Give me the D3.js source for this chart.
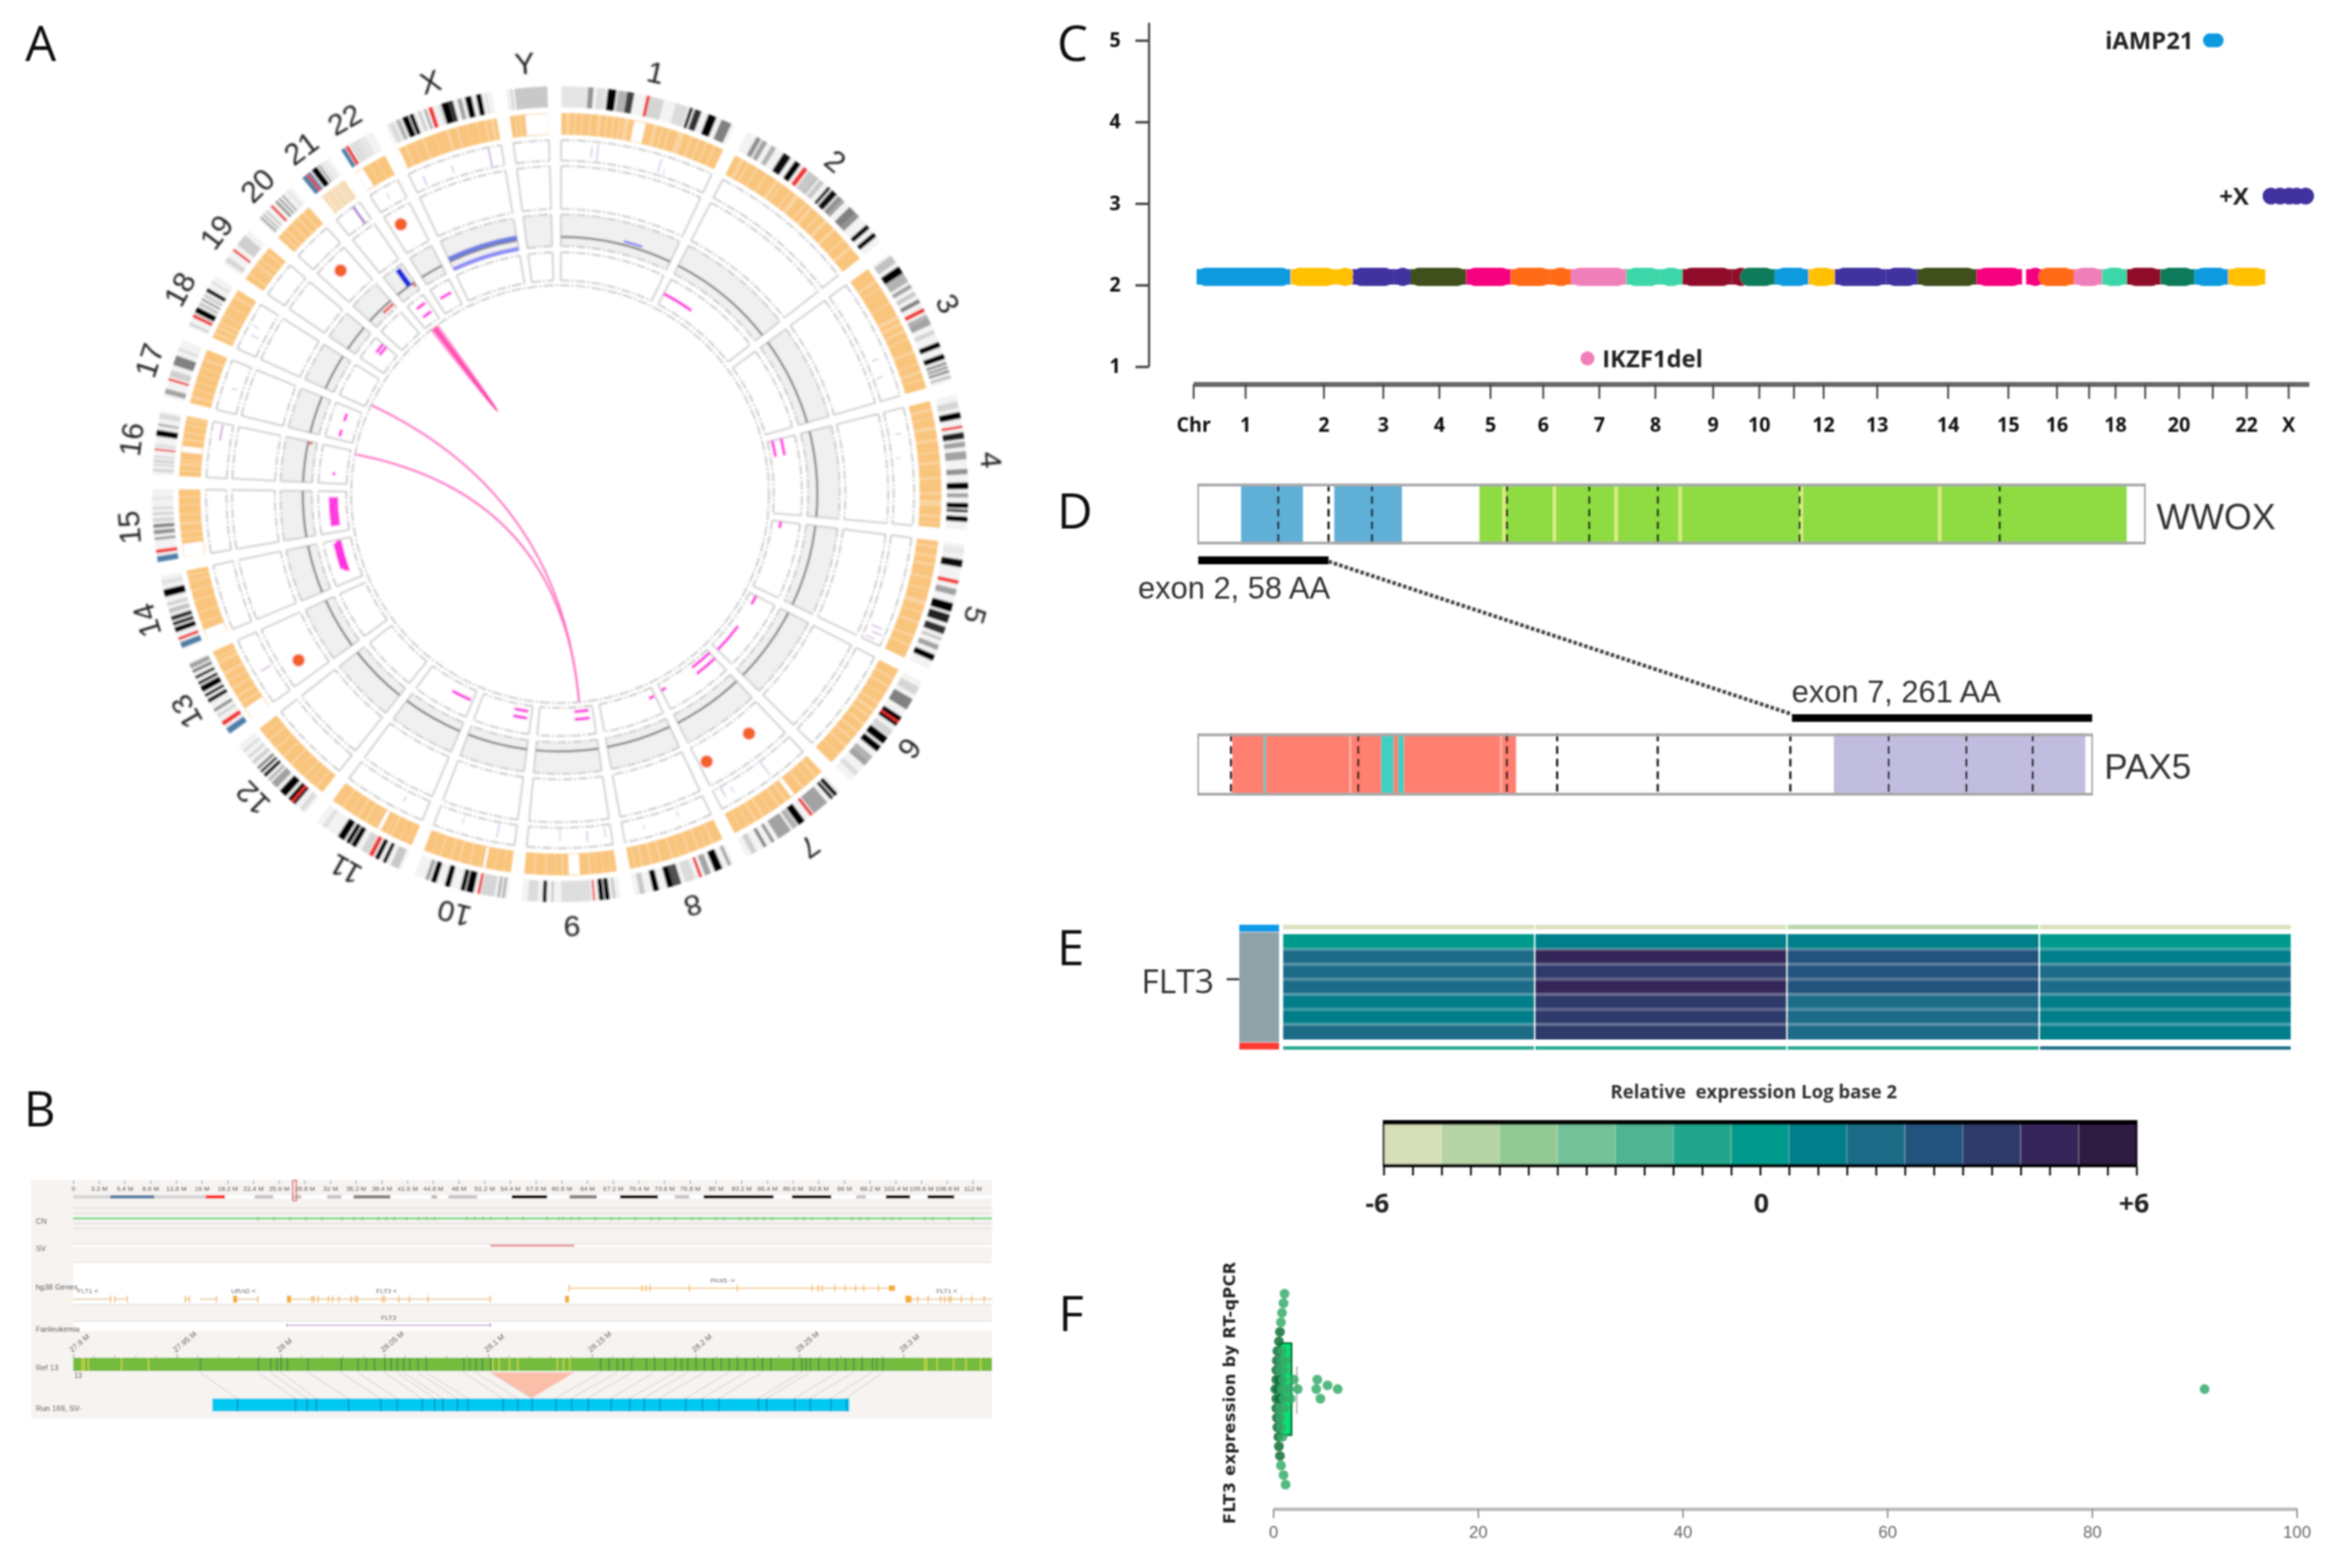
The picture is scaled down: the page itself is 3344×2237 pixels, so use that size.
<!DOCTYPE html>
<html>
<head>
<meta charset="utf-8">
<style>
  body { margin: 0; background: #fff; }
  text { font-family: "Liberation Sans", Arial, sans-serif; }
  .os text, text.os { font-family: "Open Sans", sans-serif; }
</style>
<script src="https://d3js.org/d3.v7.min.js"></script>
</head>
<body>
<svg id="fig" width="3344" height="2237" xmlns="http://www.w3.org/2000/svg"></svg>
<script>
// ---------- panel A data ----------
const chrNames = ['1','2','3','4','5','6','7','8','9','10','11','12','13','14','15','16','17','18','19','20','21','22','X','Y'];
const chrLen = [248.9,242.2,198.3,190.2,181.5,170.8,159.3,145.1,138.4,133.8,135.1,133.3,114.4,107,102,90.3,83.3,80.4,58.6,64.4,46.7,50.8,156,57.2];

// [start %, end %, darkness or r/b], read along each chromosome clockwise
const cytoBands = [
  [[0,15,12],[15,18,55],[20,25,18],[26,31,100],[32,37,45],[37,41,80],[48,50,'r'],[50,58,25],[65,72,20],[73,75,90],[76,80,85],[84,89,100],[92,98,60]],
  [[6,9,55],[10,13,50],[16,19,45],[24,29,95],[32,36,100],[38,41,'r'],[42,46,35],[46,49,40],[50,53,35],[56,58,90],[59,63,95],[64,67,55],[67,69,50],[73,78,60],[78,81,55],[87,90,100],[93,96,100]],
  [[2,8,40],[11,17,100],[17,24,45],[26,29,50],[32,35,35],[38,41,60],[45,48,'r'],[50,53,45],[53,58,50],[62,65,25],[71,75,100],[80,84,100],[86,88,55],[89,91,50],[92,94,55],[96,98,40]],
  [[5,10,25],[13,18,100],[23,25,'r'],[28,33,90],[35,39,50],[42,48,50],[55,59,55],[65,70,100],[73,76,50],[80,84,100],[85,87,90],[90,94,100]],
  [[3,8,10],[12,18,95],[28,31,'r'],[35,40,50],[46,53,100],[55,62,90],[65,71,85],[74,76,40],[80,84,50],[88,93,100]],
  [[5,12,25],[16,26,60],[33,42,100],[37,39,'r'],[46,52,25],[53,60,100],[62,68,100],[73,78,45],[78,83,50],[90,94,20]],
  [[3,7,100],[8,11,100],[15,30,50],[31,34,'r'],[40,47,100],[48,53,45],[55,68,50],[72,75,55],[80,83,60],[90,95,30]],
  [[3,6,50],[12,20,100],[24,30,50],[33,36,'r'],[40,50,20],[54,62,75],[62,68,100],[76,82,100],[90,95,35]],
  [[5,8,35],[11,16,100],[17,22,100],[26,28,'r'],[30,60,18],[68,70,40],[75,79,100],[84,94,20]],
  [[3,6,45],[8,11,45],[14,28,25],[29,32,'r'],[36,44,100],[45,50,100],[61,67,100],[76,82,100],[84,88,50]],
  [[3,12,35],[17,21,100],[25,30,100],[32,37,'r'],[38,46,25],[52,58,100],[59,64,100],[66,74,100],[88,93,15]],
  [[3,8,20],[14,24,100],[17,20,'r'],[27,36,100],[40,48,50],[50,53,45],[56,60,100],[62,65,90],[67,70,60],[74,78,30],[82,85,25],[90,93,20]],
  [[0,8,'b'],[12,18,'r'],[24,28,25],[32,36,55],[45,50,95],[53,57,95],[60,68,100],[70,74,90],[78,82,85],[86,90,60],[92,98,50]],
  [[2,10,'b'],[13,17,'r'],[24,31,100],[33,38,90],[40,46,85],[50,56,40],[60,64,30],[72,82,100],[88,94,15]],
  [[0,8,'b'],[12,17,'r'],[30,34,50],[38,44,55],[47,52,60],[55,60,25],[64,68,25],[72,76,20],[85,90,10]],
  [[5,10,25],[14,18,20],[20,24,30],[27,30,25],[38,41,'r'],[44,48,20],[60,70,100],[76,80,45],[88,96,20]],
  [[5,14,50],[28,32,'r'],[35,46,30],[55,72,60],[80,86,15]],
  [[4,8,30],[18,24,'r'],[27,38,100],[42,47,40],[51,55,50],[59,63,40],[68,75,100],[85,90,15]],
  [[8,20,25],[38,44,'r'],[56,85,30]],
  [[5,10,50],[14,18,45],[24,27,45],[38,44,'r'],[52,58,55],[62,67,50],[72,76,50],[85,92,10]],
  [[0,15,'b'],[15,22,'r'],[22,30,'b'],[35,55,100],[60,66,50],[72,76,25],[84,88,15]],
  [[0,12,'b'],[14,24,'r'],[30,36,30],[40,46,30],[50,56,25],[60,66,20],[70,76,15]],
  [[3,8,20],[10,14,45],[16,22,100],[23,27,100],[31,34,30],[37,39,50],[41,45,'r'],[50,53,15],[53,60,100],[60,64,85],[68,72,50],[75,81,100],[85,90,100],[93,95,15]],
  [[0,5,5],[10,14,35],[20,100,35]]
];

// pale strips in the orange density ring, in % of each chromosome
const heatStrips = [
  [[3,5],[8,9],[12,13],[17,18],[22,24],[27,28],[31,32],[35,36],[38,41],[56,58],[61,62],[65,66],[71,75],[79,80],[84,85],[89,90],[94,95]],
  [[4,6],[9,10],[15,16],[22,23],[29,31],[33,34],[40,41],[44,47],[52,53],[56,58],[63,64],[68,70],[75,77],[84,85],[90,92]],
  [[10,12],[16,17],[30,31],[41,44],[47,49],[53,55],[60,61],[70,72],[80,81],[86,88],[92,93]],
  [[6,8],[13,14],[20,23],[30,32],[40,41],[48,50],[60,62],[72,74],[78,83],[90,92],[96,97]],
  [[4,6],[12,14],[19,21],[30,32],[40,41],[50,54],[60,61],[68,70],[80,82],[88,90]],
  [[8,10],[16,18],[25,26],[33,35],[40,43],[47,49],[55,57],[64,66],[72,74],[80,82],[90,91]],
  [[6,8],[14,15],[22,24],[42,44],[50,52],[60,61],[68,70],[76,78],[84,85],[92,93]],
  [[10,12],[18,19],[26,28],[36,38],[46,47],[54,56],[66,68],[76,78],[86,88],[94,95]],
  [[6,7],[14,15],[22,23],[28,30],[58,60],[66,67],[76,78],[88,90]],
  [[8,9],[18,19],[36,37],[46,48],[58,60],[68,70],[80,82],[90,91]],
  [[6,7],[14,15],[24,26],[30,31],[46,47],[56,58],[66,68],[76,77],[86,88]],
  [[8,10],[18,19],[26,28],[36,37],[46,48],[58,60],[70,72],[82,84],[92,93]],
  [[22,25],[32,35],[44,47],[56,58],[66,70],[82,86],[90,92]],
  [[24,26],[38,40],[56,58],[70,72],[84,86],[92,94]],
  [[26,28],[36,38],[48,52],[62,64],[76,78],[88,90]],
  [[8,10],[18,22],[26,28],[60,63],[72,74],[84,86],[94,96]],
  [[10,14],[24,26],[38,40],[52,54],[66,68],[80,84]],
  [[8,12],[20,24],[30,34],[46,48],[66,68],[84,88]],
  [[14,18],[36,38],[44,50],[62,66],[84,88]],
  [[10,14],[24,28],[44,48],[62,66],[80,84]],
  [[20,26],[46,52],[68,74]],
  [[45,48],[70,74]],
  [[8,10],[18,19],[26,28],[38,39],[50,53],[60,62],[70,71],[80,81],[88,90],[94,97]],
  [[12,16],[24,28]]
];
// [chromosome, start %, end %] of blocks with no density
const heatGaps = [['1',44,51],['7',33,37],['9',40,52],['10',29,32],['11',38,42],['13',0,15],['14',0,14],['15',0,20],['16',40,50],['21',0,10],['22',0,25],['Y',40,100],['X',0,2]];

// ring 3 traces: [chromosome, Mb, low, high, opacity]
const traceTicks = [
  ['1',50,6,22,.5],['1',60,2,26,.5],['1',165,4,24,.5],['1',175,0,10,.3],['3',130,8,18,.5],['3',160,4,14,.5],['4',40,10,18,.5],['4',80,6,12,.4],
  ['5',155,6,22,.6],['5',165,10,26,.6],['5',175,4,18,.5],['7',65,2,24,.5],['7',130,8,16,.4],['7',145,0,16,.6],['8',50,6,14,.4],['8',110,10,18,.3],
  ['9',10,4,18,.4],['9',40,6,22,.5],['9',85,2,18,.4],['10',30,2,22,.5],['10',90,4,14,.4],['11',40,8,16,.5],['13',53,4,20,.7],['17',40,8,16,.5],
  ['18',30,8,20,.5],['18',45,14,24,.4],['21',34,0,29,1],['22',25,10,20,.4],['X',20,4,18,.6],['X',70,6,18,.5],['X',135,2,28,.8]
];

// ring 4 orange dots: [chromosome, Mb, level]
const snvDots = [['7',50,28],['7',144.5,28],['13',35,35],['20',32,40],['22',19,40]];

// ring 5 copy number extra segments: [chromosome, start Mb, end Mb, level]
const gainLine = [['X',0,156,17]];
const gainBand = [['X',0,156,1]];
const gainSmall = [['1',138,180,18]];
const gainStep = [['21',33,13,41.5]];
const lossSmall = [['20',34,64,7],['21',40,46,9],['16',84,90,9]];

// ring 6 magenta segments: [chromosome, start Mb, end Mb, level]
const svSegments = [
  ['2',0,82,17],['4',0,43,7],['4',0,43,20],['5',0,17,12],['6',0,25,10],['6',90,170,11],['7',0,60,6],['7',0,60,17],['7',145,159,10],
  ['8',3,17,13],['9',10,48,6],['9',10,48,17],['10',9,45,8],['10',9,45,18],['11',5,57,15],['14',24,105,16],['14',28,105,20],['14',34,100,24],
  ['15',15,88,14],['15',15,88,18.5],['15',15,88,23],['16',20,28,19],['17',48,68,20],['17',8,26,20],['19',32,58,26],['19',32,58,20],['21',14,40,29],['21',14,40,14],['22',10,41,22]
];

// arcs across the middle: [chromosome, Mb] to [chromosome, Mb]
const longLinks = [[['9',33],['18',10]],[['9',33],['16',82]]];
// self links on 21: source and target spans in Mb
const selfLinks = [[9,21,22,34],[12,20,23,31],[15,20,23,28],[18,21,22,25]];

// ---------- panel B data ----------
const overviewTicks = [0,3.2,6.4,9.6,12.8,16,19.2,22.4,25.6,28.8,32,35.2,38.4,41.6,44.8,48,51.2,54.4,57.6,60.8,64,67.2,70.4,73.6,76.8,80,83.2,86.4,89.6,92.8,96,99.2,102.4,105.6,108.8,112];
const overviewBands = [
  [0,4.6,'#d6d6d6'],[4.6,10.1,'#5a82a8'],[10.1,16.5,'#d6d6d6'],[16.5,18.9,'#ff2b1c'],[22.6,24.9,'#c6c6c6'],[27.2,28.4,'#c6c6c6'],[31.6,33.4,'#c6c6c6'],
  [34.9,39.5,'#858585'],[44.6,45.3,'#bdbdbd'],[46.7,50.3,'#c6c6c6'],[54.6,59,'#000'],[61.8,65.2,'#858585'],[68.1,72.8,'#000'],[74.9,76.7,'#c6c6c6'],
  [78.5,87.2,'#000'],[89.5,94.4,'#000'],[97.5,98.7,'#c6c6c6'],[101.2,104.2,'#000'],[106.4,109.7,'#000']
];
const cnTicksM = [23,25,27,29,31,33.5,35,36,38,39,40,41.5,43,44,45,49,50,51,52,54,56,59,60.5,61,62,63,65,67,68,70,72,73,75,77,78,80,81,83,84,85,86,87,90,91,92,94,95,97,98,99,101,102,103,106,107,109,112];
const svDeletion = [28.101,28.1415];

const regionTicks = [27.9,27.95,28,28.05,28.1,28.15,28.2,28.25,28.3];
const geneSpans = [[27.9,27.918],[27.920,27.926],[27.954,27.956],[27.961,27.969],[27.978,27.989],[28.003,28.101],[28.137,28.139],[28.301,28.343]];
const geneExons = [27.918,27.920,27.926,27.954,27.956,27.969,27.978,27.989,28.004,28.015,28.016,28.018,28.023,28.025,28.028,28.034,28.036,28.037,28.049,28.050,28.057,28.062,28.071,28.101,28.307,28.312,28.318,28.320,28.322,28.323,28.328,28.333,28.339];
const geneBlocks = [[27.977,27.979],[28.003,28.005],[28.137,28.139],[28.301,28.304]];
const pax5Span = [28.139,28.295];
const pax5Exons = [28.139,28.174,28.176,28.178,28.197,28.220,28.256,28.259,28.261,28.267,28.272,28.277,28.281,28.288];
const pax5Block = [28.293,28.296];
const geneLabels = [['FLT1 <',27.907,0],['URAD <',27.982,0],['FLT3 <',28.051,0],['FLT1 <',28.321,0],['PAX5 ->',28.213,1]];
const fanSpan = [28.003,28.101];

const refDark = [27.961,27.989,27.995,28.000,28.013,28.029,28.037,28.050,28.056,28.059,28.066,28.070,28.088,28.094,28.101,28.154,28.162,28.169,28.180,28.190,28.196,28.204,28.216,28.224,28.232,28.251,28.255,28.268,28.276,28.285,28.290];
const runDark = [27.979,28.007,28.0125,28.017,28.0325,28.048,28.056,28.068,28.074,28.078,28.085,28.090,28.107,28.114,28.121,28.1325,28.140,28.148,28.159,28.168,28.175,28.1825,28.195,28.203,28.211,28.230,28.234,28.2475,28.255,28.265,28.2725];
const refExtra = [27.998,28.003,28.041,28.045,28.053,28.062,28.091,28.097,28.158,28.165,28.176,28.185,28.193,28.200,28.208,28.212,28.220,28.228,28.236,28.247,28.253,28.259,28.264,28.272,28.280,28.287];
const refYellow = [27.904,27.905,27.907,27.923,27.936,28.102,28.105,28.110,28.114,28.133,28.136,28.139,28.310,28.311,28.316,28.324,28.330,28.337];
const runSpan = [27.967,28.274];

// ---------- panel C data ----------
const chrTickPos = [172,235,330,402,470,532,596,664,732,802,858,900,936,1001,1087,1160,1219,1258,1290,1326,1367,1408,1449,1500];
const chrTickText = ['Chr','1','2','3','4','5','6','7','8','9','10','','12','13','14','15','16','','18','','20','','22','X'];
const cnColors = {blue:'#0a9ade',yellow:'#ffc000',purple:'#41309f',olive:'#3f4f1c',pink:'#f5007e',orange:'#ff6a13',rose:'#ef7fb8',teal:'#3ed6a8',maroon:'#8f0c2c',green:'#077a5a'};
// start, end along the genome axis, colour name
const cnStarts = [176,290,345,365,415,435,503,557,605,630,697,738,765,825,835,877,918,950,1012,1050,1122,1182,1197,1240,1274,1304,1345,1386,1427];
const cnEnds   = [290,345,365,415,435,503,557,605,630,697,738,765,825,835,877,918,950,1012,1050,1122,1177,1197,1240,1274,1304,1345,1386,1427,1472];
const cnHues   = ['blue','yellow','yellow','purple','purple','olive','pink','orange','orange','rose','teal','teal','maroon','maroon','green','blue','yellow','purple','purple','olive','pink','pink','orange','rose','teal','maroon','green','blue','yellow'];
const cnLevel = 2.1;
const cnPlusX = [1479,1490,1501,1510,1521];
const cnPlusXLevel = 3.09;
const cnIamp = [1405,1409,1413];
const cnIampLevel = 5;
const cnIkzf = 650;
const cnIkzfLevel = 1.1;

// ---------- panel D data ----------
const wwoxLength = 414;
const wwoxBlue = [[18.75,45.8],[59.5,89.1]];
const wwoxGreen = [[123,406]];
const wwoxStrips = [133,155,182,210,263,323.5];
const wwoxExons = [35,57,76,135,171,201,263,350.5];
const pax5Length = 391;
const pax5Red = [[15,139]];
const pax5Purple = [[278,388]];
const pax5Teal = [[28.6,29.6],[80,85.5],[87.4,90]];
const pax5Pale = [66,132];
const pax5Dash = [14.4,70,135,157,201,259,302,336,365];

// ---------- panel E data ----------
const heatPalette = ['#d6dfb8','#b5d3a4','#93c995','#72c197','#4fb491','#20a68b','#009a8d','#027e8a','#1c6c88','#24537c','#2f3a6b','#35285a','#2e1a42'];
const heatColumns = ['c1','c2','c3','c4'];
const heatRows = [0,1,2,3,4,5,6];
const heatCol1 = [0,2,2,2,1,1,2];
const heatCol2 = [1,5,4,5,4,4,4];
const heatCol3 = [1,3,3,3,2,2,2];
const heatCol4 = [0,1,2,2,1,1,1];
const heatTop = [-6,-6,-5,-6];
const heatBottom = [-1,-1,-1,2];

// ---------- panel F data ----------
const fltValues = [1.1,1.0,.85,.75,.65,.55,.4,.9,.35,.8,1.2,.3,.7,1.1,.3,.6,.95,2.0,4.3,.2,.5,.8,1.1,1.5,2.4,4.2,6.3,5.3,.3,.65,1.0,1.7,4.6,.3,.7,1.1,.35,.75,.4,.8,.5,.9,.55,.65,.75,1.0,1.2,91];
const fltRows   = [-10,-9,-8,-7,-6,-5,-4,-4,-3,-3,-3,-2,-2,-2,-1,-1,-1,-1,-1,0,0,0,0,0,0,0,0,-.4,1,1,1,1,1,2,2,2,3,3,4,4,5,5,6,7,8,9,10,0];
const fltBox = [.65,1.77];
const fltWhisker = 2.3;
const fltTicks = [0,20,40,60,80,100];

// ---------- drawing ----------
const svg = d3.select('#fig');
const defs = svg.append('defs');
[['soft',1.5],['softer',.8]].forEach(([id, dev]) => {
  defs.append('filter').attr('id', id)
    .attr('filterUnits', 'userSpaceOnUse').attr('x', 0).attr('y', 0).attr('width', 3344).attr('height', 2237)
    .append('feGaussianBlur').attr('stdDeviation', dev);
});

const panelLetters = [['A',36,87],['B',34,1607],['C',1508,87],['D',1508,754],['E',1508,1377],['F',1510,1899]];
svg.append('g').attr('filter', 'url(#softer)').selectAll('text').data(panelLetters).join('text')
  .attr('class', 'os').attr('x', d => d[1]).attr('y', d => d[2]).attr('font-size', 70).attr('fill', '#111').text(d => d[0]);

// ---- A: circos ----
const rad = d => d * Math.PI / 180;
const gapDeg = 2, unit = (360 - 24 * gapDeg) / d3.sum(chrLen);
let cursor = 0.2;
const chrAngle = chrLen.map(len => {
  const s = d3.scaleLinear().domain([0, len]).range([rad(cursor), rad(cursor + len * unit)]);
  cursor += len * unit + gapDeg;
  return s;
});
const ix = name => chrNames.indexOf(name);
const ang = (name, mb) => chrAngle[ix(name)](mb);

const A = svg.append('g').attr('filter', 'url(#soft)').append('g').attr('transform', 'translate(799,705)');
const arc = d3.arc();
const wedge = (r0, r1, a0, a1) => arc({innerRadius: r0, outerRadius: r1, startAngle: a0, endAngle: a1});

const bandGray = d3.scaleLinear().domain([0, 40, 100]).range(['#f4f4f4', '#c2c2c2', '#000']);
const bandColor = v => v === 'r' ? '#f23030' : v === 'b' ? '#4f7fa8' : bandGray(v);

chrNames.forEach((name, i) => {
  const s = chrAngle[i], len = chrLen[i];
  const [a0, a1] = s.range();
  const pct = p => s(len * p / 100);
  // ideogram
  A.append('path').attr('d', wedge(552, 582, a0, a1)).attr('fill', '#f3f3f3');
  A.append('g').selectAll('path').data(cytoBands[i]).join('path')
    .attr('d', d => wedge(552, 582, pct(d[0]), pct(d[1])))
    .attr('fill', d => bandColor(d[2]));
  // density
  A.append('path').attr('d', wedge(513, 544, a0, a1))
    .attr('fill', name === '21' ? '#f6dcb8' : '#f9c47c');
  A.append('g').selectAll('path').data(heatStrips[i]).join('path')
    .attr('d', d => wedge(513, 544, pct(d[0]), pct(d[1])))
    .attr('fill', '#fff').attr('opacity', .28);
  // empty tracks
  [[476, 505, '#fff'], [407, 468, '#fff'], [354, 399, '#f0f0f0'], [305, 345, '#fff']].forEach(([r0, r1, fill]) => {
    A.append('path').attr('d', wedge(r0, r1, a0, a1)).attr('fill', fill);
    [a0, a1].forEach(a => {
      A.append('line')
        .attr('x1', r0 * Math.sin(a)).attr('y1', -r0 * Math.cos(a))
        .attr('x2', r1 * Math.sin(a)).attr('y2', -r1 * Math.cos(a))
        .attr('stroke', '#cfcfcf').attr('stroke-width', 2.6);
    });
    [r0, r1].forEach(r => {
      const p = d3.path();
      p.arc(0, 0, r, a0 - Math.PI / 2, a1 - Math.PI / 2);
      A.append('path').attr('d', p.toString()).attr('fill', 'none')
        .attr('stroke', '#c8c8c8').attr('stroke-width', 2.6).attr('stroke-dasharray', '13 3 3 3');
    });
  });
  // copy number baseline
  if (name !== 'Y') {
    A.append('path').attr('d', wedge(365.5, 368.5, a0, a1)).attr('fill', '#7a7a7a');
  }
});

heatGaps.forEach(([name, p0, p1]) => {
  const i = ix(name), s = chrAngle[i], len = chrLen[i];
  A.append('path').attr('d', wedge(514, 543, s(len * p0 / 100), s(len * p1 / 100))).attr('fill', '#fff');
});

// outer ring of the hole
A.append('circle').attr('r', 298).attr('fill', 'none').attr('stroke', '#cacaca').attr('stroke-width', 2.6).attr('stroke-dasharray', '14 3 3 3');

// ring 3 traces
const trace = d3.scaleLinear().domain([0, 29]).range([476, 505]);
A.append('g').selectAll('line').data(traceTicks).join('line')
  .attr('x1', d => trace(d[2]) * Math.sin(ang(d[0], d[1]))).attr('y1', d => -trace(d[2]) * Math.cos(ang(d[0], d[1])))
  .attr('x2', d => trace(d[3]) * Math.sin(ang(d[0], d[1]))).attr('y2', d => -trace(d[3]) * Math.cos(ang(d[0], d[1])))
  .attr('stroke', '#b482cf').attr('stroke-width', d => d[4] === 1 ? 4 : 2).attr('opacity', d => d[4]);
A.append('path').attr('d', wedge(490, 492.5, ang('16', 62), ang('16', 88))).attr('fill', '#b482cf').attr('opacity', .8);

// ring 4 dots
const level4 = d3.scaleLinear().domain([0, 61]).range([407, 468]);
A.append('g').selectAll('circle').data(snvDots).join('circle')
  .attr('cx', d => level4(d[2]) * Math.sin(ang(d[0], d[1]))).attr('cy', d => -level4(d[2]) * Math.cos(ang(d[0], d[1])))
  .attr('r', 9).attr('fill', '#f4602c');

// ring 5 copy number
const level5 = d3.scaleLinear().domain([0, 45]).range([354, 399]);
A.append('g').selectAll('path').data(gainBand).join('path')
  .attr('d', d => wedge(level5(d[3]) - 3, level5(d[3]) + 3, ang(d[0], d[1]), ang(d[0], d[2]))).attr('fill', '#8c8cf5');
A.append('g').selectAll('path').data(gainLine).join('path')
  .attr('d', d => wedge(level5(d[3]) - 3.5, level5(d[3]) + 3.5, ang(d[0], d[1]), ang(d[0], d[2]))).attr('fill', '#6f7fe0');
A.append('g').selectAll('path').data(gainSmall).join('path')
  .attr('d', d => wedge(level5(d[3]) - 1.5, level5(d[3]) + 1.5, ang(d[0], d[1]), ang(d[0], d[2]))).attr('fill', '#7272f0');
A.append('g').selectAll('line').data(gainStep).join('line')
  .attr('x1', d => level5(d[2]) * Math.sin(ang(d[0], d[1]))).attr('y1', d => -level5(d[2]) * Math.cos(ang(d[0], d[1])))
  .attr('x2', d => level5(d[3]) * Math.sin(ang(d[0], d[1]))).attr('y2', d => -level5(d[3]) * Math.cos(ang(d[0], d[1])))
  .attr('stroke', '#1a28e0').attr('stroke-width', 8);
A.append('g').selectAll('path').data(lossSmall).join('path')
  .attr('d', d => wedge(level5(d[3]) - 2, level5(d[3]) + 2, ang(d[0], d[1]), ang(d[0], d[2]))).attr('fill', '#f25050');

// ring 6 structural variants
const level6 = d3.scaleLinear().domain([0, 40]).range([305, 345]);
A.append('g').selectAll('path').data(svSegments).join('path')
  .attr('d', d => wedge(level6(d[3]) - 2.2, level6(d[3]) + 2.2, ang(d[0], d[1]), ang(d[0], d[2]))).attr('fill', '#ff2fe0');

// links through the hole
const ribbon = d3.ribbon().radius(297);
A.append('g').selectAll('path').data(longLinks).join('path')
  .attr('d', d => ribbon({
    source: {startAngle: ang(d[0][0], d[0][1]), endAngle: ang(d[0][0], d[0][1])},
    target: {startAngle: ang(d[1][0], d[1][1]), endAngle: ang(d[1][0], d[1][1])}
  }))
  .attr('fill', 'none').attr('stroke', '#ff6cbd').attr('stroke-width', 2.6);
A.append('g').selectAll('path').data(selfLinks).join('path')
  .attr('d', d => ribbon({
    source: {startAngle: ang('21', d[0]), endAngle: ang('21', d[1])},
    target: {startAngle: ang('21', d[2]), endAngle: ang('21', d[3])}
  }))
  .attr('fill', '#ff3aa8').attr('fill-opacity', .28).attr('stroke', '#ff2aa0').attr('stroke-width', 1).attr('stroke-opacity', .45);

// chromosome names
A.append('g').selectAll('text').data(chrNames).join('text')
  .attr('transform', (d, i) => {
    const [a0, a1] = chrAngle[i].range();
    return `rotate(${(a0 + a1) / 2 * 180 / Math.PI}) translate(0,-617)`;
  })
  .attr('text-anchor', 'middle').attr('dy', '.36em').attr('font-size', 43).attr('fill', '#222').text(d => d);

// ---- B: genome browser ----
const B = svg.append('g').attr('filter', 'url(#softer)');
const ovX = d3.scaleLinear().domain([0, 112]).range([104.5, 1387.6]);
const rgX = d3.scaleLinear().domain([27.9, 28.3]).range([104.5, 1288.6]);
const bRight = 1415;

B.append('rect').attr('x', 44.4).attr('y', 1683.3).attr('width', bRight - 44.4).attr('height', 340.7).attr('fill', '#f6f3f1');
B.append('rect').attr('x', 104.5).attr('y', 1705).attr('width', bRight - 104.5).attr('height', 5).attr('fill', '#fff');
B.append('g').selectAll('rect').data(overviewBands).join('rect')
  .attr('x', d => ovX(d[0])).attr('width', d => ovX(d[1]) - ovX(d[0]))
  .attr('y', 1705).attr('height', 5).attr('fill', d => d[2]);
const ovAxis = d3.axisTop(ovX).tickValues(overviewTicks).tickSize(0).tickFormat(d => d === 0 ? '0' : d + ' M');
const ovG = B.append('g').attr('transform', 'translate(0,1689)').call(ovAxis);
ovG.select('.domain').remove();
ovG.selectAll('text').attr('y', 10).attr('dy', 0).attr('font-size', 9.5).attr('fill', '#333');
ovG.selectAll('.tick').append('line').attr('y1', -5).attr('y2', 0).attr('stroke', '#777');
B.append('rect').attr('x', ovX(27.3)).attr('y', 1684).attr('width', 6).attr('height', 29)
  .attr('fill', '#f0c0c0').attr('fill-opacity', .5).attr('stroke', '#d04040').attr('stroke-width', 1.2);

[1723.4, 1730.7, 1745.6, 1752.6].forEach(y => {
  B.append('rect').attr('x', 104.5).attr('y', y - 1).attr('width', bRight - 104.5).attr('height', 2).attr('fill', '#e4e2e0');
});
B.append('rect').attr('x', 104.5).attr('y', 1736.3).attr('width', bRight - 104.5).attr('height', 4).attr('fill', '#b9efc1');
B.append('rect').attr('x', 104.5).attr('y', 1737.7).attr('width', bRight - 104.5).attr('height', 1.2).attr('fill', '#3fc45c');
B.append('g').selectAll('line').data(cnTicksM).join('line')
  .attr('x1', d => ovX(d)).attr('x2', d => ovX(d)).attr('y1', 1736).attr('y2', 1741).attr('stroke', '#5c8a3a').attr('stroke-width', .8);

// tracks
B.append('rect').attr('x', 104.5).attr('y', 1775.5).attr('width', bRight - 104.5).attr('height', 4).attr('fill', '#fff');
B.append('rect').attr('x', rgX(svDeletion[0])).attr('y', 1775.5).attr('width', rgX(svDeletion[1]) - rgX(svDeletion[0])).attr('height', 3)
  .attr('fill', '#ee8a8a');
B.append('rect').attr('x', 104.5).attr('y', 1801.4).attr('width', bRight - 104.5).attr('height', 59.6).attr('fill', '#fff');
B.append('rect').attr('x', 104.5).attr('y', 1885).attr('width', bRight - 104.5).attr('height', 14).attr('fill', '#fff');
[1775, 1801, 1861, 1885].forEach(y => {
  B.append('rect').attr('x', 104.5).attr('y', y - .5).attr('width', bRight - 104.5).attr('height', 1).attr('fill', '#dcdad8');
});

// genes
const geneY = 1853.4, paxY = 1837.8;
B.append('g').selectAll('rect').data(geneSpans).join('rect')
  .attr('x', d => rgX(d[0])).attr('width', d => rgX(d[1]) - rgX(d[0])).attr('y', geneY - 1).attr('height', 2)
  .attr('fill', '#e6cf9f');
B.append('g').selectAll('rect').data(geneExons).join('rect')
  .attr('class', 'ex').attr('x', d => rgX(d) - .8).attr('width', 1.6).attr('y', geneY - 5).attr('height', 10).attr('fill', '#f5b04a');
B.append('g').selectAll('rect').data(geneBlocks).join('rect')
  .attr('x', d => rgX(d[0])).attr('width', d => rgX(d[1]) - rgX(d[0])).attr('y', geneY - 5).attr('height', 10).attr('fill', '#f7ab2e');
B.append('rect').attr('x', rgX(pax5Span[0])).attr('width', rgX(pax5Span[1]) - rgX(pax5Span[0])).attr('y', paxY - 1).attr('height', 2).attr('fill', '#f6cf8e');
B.append('g').selectAll('rect').data(pax5Exons).join('rect')
  .attr('x', d => rgX(d) - .8).attr('width', 1.6).attr('y', paxY - 5).attr('height', 10).attr('fill', '#f5b04a');
B.append('rect').attr('x', rgX(pax5Block[0])).attr('width', rgX(pax5Block[1]) - rgX(pax5Block[0])).attr('y', paxY - 4).attr('height', 8).attr('fill', '#f7ab2e');
B.append('g').selectAll('text').data(geneLabels).join('text')
  .attr('x', d => rgX(d[1])).attr('y', d => d[2] ? 1829.6 : 1845).attr('text-anchor', 'middle')
  .attr('font-size', 9.5).attr('fill', '#444').text(d => d[0]);

// FLT3 annotation
B.append('path').attr('d', d3.line()([[rgX(fanSpan[0]), 1888], [rgX(fanSpan[0]), 1893], [rgX(fanSpan[0]), 1890.6], [rgX(fanSpan[1]), 1890.6], [rgX(fanSpan[1]), 1888], [rgX(fanSpan[1]), 1893]]))
  .attr('fill', 'none').attr('stroke', '#b060c8').attr('stroke-width', 1.3);
B.append('text').attr('x', rgX(28.052)).attr('y', 1882.6).attr('text-anchor', 'middle').attr('font-size', 9.5).attr('fill', '#444').text('FLT3');

// region ruler
const rgAxis = d3.axisTop(rgX).tickValues(regionTicks).tickSize(5).tickFormat(d => d + ' M');
const rgG = B.append('g').attr('transform', 'translate(0,1937)').call(rgAxis);
rgG.select('.domain').remove();
rgG.selectAll('line').attr('stroke', '#777');
rgG.selectAll('text').attr('transform', 'rotate(-40) translate(0,-4)').attr('text-anchor', 'start').attr('x', 3).attr('y', -3).attr('dy', 0)
  .attr('font-size', 11).attr('fill', '#444');
const rgMinor = regionTicks.slice(0, -1).flatMap(d => [d + .01, d + .02, d + .03, d + .04]);
B.append('g').selectAll('line').data(rgMinor).join('line')
  .attr('x1', d => rgX(d)).attr('x2', d => rgX(d)).attr('y1', 1934).attr('y2', 1937).attr('stroke', '#999');

// reference and run bars
B.append('rect').attr('x', 104.5).attr('y', 1937).attr('width', bRight - 104.5).attr('height', 19).attr('fill', '#74bb3d');
B.append('g').selectAll('rect').data(refYellow).join('rect')
  .attr('x', d => rgX(d)).attr('width', 1.6).attr('y', 1937).attr('height', 19).attr('fill', '#d7d84a');
B.append('g').selectAll('rect').data(refExtra.concat(refDark)).join('rect')
  .attr('x', d => rgX(d)).attr('width', 1.1).attr('y', 1937).attr('height', 19).attr('fill', '#1a6b5a');
B.append('g').selectAll('line').data(refDark).join('line')
  .attr('x1', d => rgX(d)).attr('y1', 1958)
  .attr('x2', (d, i) => rgX(runDark[i])).attr('y2', 1995)
  .attr('stroke', '#c9c6c4').attr('stroke-width', 1);
B.append('path').attr('d', d3.line()([[rgX(svDeletion[0]), 1958], [rgX(svDeletion[1]), 1958], [rgX(28.121), 1994.5]])).attr('fill', '#fbbfa9');
B.append('rect').attr('x', rgX(runSpan[0])).attr('y', 1995).attr('width', rgX(runSpan[1]) - rgX(runSpan[0])).attr('height', 18.6)
  .attr('fill', '#00c8f0');
B.append('g').selectAll('rect').data(runDark).join('rect')
  .attr('x', d => rgX(d)).attr('width', 1.1).attr('y', 1995).attr('height', 18.6).attr('fill', '#0a6392');

const trackLabels = [['CN',1746],['SV',1785],['hg38 Genes',1840],['Fanleukemia',1900],['Ref 13',1954.6],['Run 169, SV-',2012.6]];
B.append('g').selectAll('text').data(trackLabels).join('text')
  .attr('x', 51).attr('y', d => d[1]).attr('font-size', 11).attr('fill', '#333').text(d => d[0]);
B.append('text').attr('x', 106).attr('y', 1966).attr('font-size', 10).attr('fill', '#333').text('13');

// ---- C: copy number ----
const C = svg.append('g').attr('class', 'os').attr('filter', 'url(#softer)');
const cX = d3.scaleLinear().domain([172, 1525]).range([1702.4, 3294]);
const cY = d3.scaleLinear().domain([1, 5.22]).range([523, 32]);
const yAxisC = C.append('g').attr('transform', 'translate(1638.8,0)')
  .call(d3.axisLeft(cY).tickValues([1, 2, 3, 4, 5]).tickSize(19).tickSizeOuter(0).tickFormat(d3.format('d')));
yAxisC.select('.domain').attr('stroke', '#444').attr('stroke-width', 3);
yAxisC.selectAll('line').attr('stroke', '#444').attr('stroke-width', 3.5);
yAxisC.selectAll('text').attr('font-size', 28).attr('font-weight', 700).attr('fill', '#111').attr('x', -40);

const xAxisC = C.append('g').attr('transform', 'translate(0,548)')
  .call(d3.axisBottom(cX).tickValues(chrTickPos).tickSize(21).tickSizeOuter(0).tickFormat((d, i) => chrTickText[i]));
xAxisC.select('.domain').attr('stroke', '#666').attr('stroke-width', 7);
xAxisC.selectAll('line').attr('stroke', '#444').attr('stroke-width', 2.6);
xAxisC.selectAll('text').attr('y', 68).attr('dy', 0).attr('font-size', 28).attr('font-weight', 700).attr('fill', '#111');

const cnR = 13;
// butt-ended core keeps the notches between arms shallow
C.append('g').selectAll('line').data(cnStarts).join('line')
  .attr('x1', d => cX(d)).attr('x2', (d, i) => cX(cnEnds[i]))
  .attr('y1', cY(cnLevel)).attr('y2', cY(cnLevel))
  .attr('stroke', (d, i) => cnColors[cnHues[i]]).attr('stroke-width', 22);
C.append('g').selectAll('line').data(cnStarts).join('line')
  .attr('x1', d => cX(d) + cnR)
  .attr('x2', (d, i) => Math.max(cX(d) + cnR, cX(cnEnds[i]) - cnR))
  .attr('y1', cY(cnLevel)).attr('y2', cY(cnLevel))
  .attr('stroke', (d, i) => cnColors[cnHues[i]]).attr('stroke-width', cnR * 2).attr('stroke-linecap', 'round');
C.append('g').selectAll('circle').data(cnPlusX).join('circle')
  .attr('cx', d => cX(d)).attr('cy', cY(cnPlusXLevel)).attr('r', 12).attr('fill', cnColors.purple);
C.append('g').selectAll('circle').data(cnIamp).join('circle')
  .attr('cx', d => cX(d)).attr('cy', cY(cnIampLevel)).attr('r', 10).attr('fill', cnColors.blue);
C.append('circle').attr('cx', cX(cnIkzf)).attr('cy', cY(cnIkzfLevel)).attr('r', 10).attr('fill', cnColors.rose);
const cLabels = [['iAMP21', 1385, cnIampLevel, 'end'], ['+X', 1452, cnPlusXLevel, 'end'], ['IKZF1del', 668, cnIkzfLevel, 'start']];
C.append('g').selectAll('text').data(cLabels).join('text')
  .attr('x', d => cX(d[1])).attr('y', d => cY(d[2])).attr('dy', '.36em').attr('text-anchor', d => d[3])
  .attr('font-size', 34).attr('font-weight', 700).attr('fill', '#222').text(d => d[0]);

// ---- D: fusion proteins ----
const D = svg.append('g').attr('filter', 'url(#softer)');
function proteinBox(len, x0, x1, y0, y1, fills, strips, dashes) {
  const x = d3.scaleLinear().domain([0, len]).range([x0, x1]);
  const g = D.append('g');
  fills.forEach(([spans, color]) => {
    g.append('g').selectAll('rect').data(spans).join('rect')
      .attr('x', d => x(d[0])).attr('width', d => x(d[1]) - x(d[0]))
      .attr('y', y0).attr('height', y1 - y0).attr('fill', color);
  });
  strips.forEach(([spans, color]) => {
    g.append('g').selectAll('rect').data(spans).join('rect')
      .attr('x', d => x(d[0])).attr('width', d => Math.max(x(d[1]) - x(d[0]), 2))
      .attr('y', y0).attr('height', y1 - y0).attr('fill', color);
  });
  g.append('g').selectAll('line').data(dashes).join('line')
    .attr('x1', d => x(d)).attr('x2', d => x(d)).attr('y1', y0).attr('y2', y1)
    .attr('stroke', '#111').attr('stroke-width', 3).attr('stroke-dasharray', '11 7');
  [[y0, y0 + 4], [y1 - 4, y1]].forEach(([a, b]) => {
    g.append('rect').attr('x', x0).attr('width', x1 - x0).attr('y', a).attr('height', b - a).attr('fill', '#a8a8a8');
  });
  [x0, x1].forEach(v => {
    g.append('line').attr('x1', v).attr('x2', v).attr('y1', y0).attr('y2', y1).attr('stroke', '#a0a0a0').attr('stroke-width', 2.2);
  });
  return x;
}
const wwoxX = proteinBox(wwoxLength, 1709.4, 3060, 689.9, 776.7,
  [[wwoxBlue, '#5fafd7'], [wwoxGreen, '#8edc42']],
  [[wwoxStrips.map(d => [d, d + 1.5]), '#dcec86']], wwoxExons);
const pax5X = proteinBox(pax5Length, 1709.4, 2984.7, 1046.4, 1135,
  [[pax5Red, '#ff7f70'], [pax5Purple, '#c1bddf']],
  [[pax5Teal, '#3fcfc0'], [pax5Pale.map(d => [d, d + 1]), '#ffb0a5']], pax5Dash);

D.append('rect').attr('x', wwoxX(0)).attr('width', wwoxX(57) - wwoxX(0)).attr('y', 793.7).attr('height', 11.3).attr('fill', '#000');
D.append('rect').attr('x', pax5X(259.7)).attr('width', pax5X(391) - pax5X(259.7)).attr('y', 1019).attr('height', 10.8).attr('fill', '#000');
D.append('line').attr('x1', wwoxX(57)).attr('y1', 801).attr('x2', pax5X(259.7)).attr('y2', 1019)
  .attr('stroke', '#444').attr('stroke-width', 5.5).attr('stroke-dasharray', '5 3');
const dLabels = [['exon 2, 58 AA', 1623.5, 854, 44], ['exon 7, 261 AA', 2556, 1002, 44], ['WWOX', 3076.5, 754.5, 51], ['PAX5', 3002, 1111, 50]];
D.append('g').selectAll('text').data(dLabels).join('text')
  .attr('x', d => d[1]).attr('y', d => d[2]).attr('font-size', d => d[3]).attr('fill', '#333').text(d => d[0]);

// ---- E: heatmap ----
const E = svg.append('g').attr('class', 'os').attr('filter', 'url(#softer)');
const heatColor = d3.scaleOrdinal().domain(d3.range(-6, 7)).range(heatPalette);
const hx = d3.scaleBand().domain(heatColumns).range([1830.6, 3268]).paddingInner(.006);
const hy = d3.scaleBand().domain(heatRows).range([1332.7, 1483]);
const heatMain = [heatCol1, heatCol2, heatCol3, heatCol4];
heatColumns.forEach((c, ci) => {
  E.append('g').selectAll('rect').data(heatMain[ci]).join('rect')
    .attr('x', hx(c)).attr('width', hx.bandwidth())
    .attr('y', (d, i) => hy(i)).attr('height', hy.bandwidth()).attr('fill', d => heatColor(d));
  E.append('rect').attr('x', hx(c)).attr('width', hx.bandwidth()).attr('y', 1319.3).attr('height', 6.5).attr('fill', heatColor(heatTop[ci])).attr('opacity', .9);
  E.append('rect').attr('x', hx(c)).attr('width', hx.bandwidth()).attr('y', 1492.7).attr('height', 4.8).attr('fill', heatColor(heatBottom[ci]));
});
E.append('g').selectAll('line').data(heatRows.slice(1)).join('line')
  .attr('x1', hx('c1')).attr('x2', hx('c4') + hx.bandwidth())
  .attr('y1', d => hy(d)).attr('y2', d => hy(d))
  .attr('stroke', '#fff').attr('stroke-opacity', .2).attr('stroke-width', 5);
E.append('rect').attr('x', 1768).attr('width', 56.7).attr('y', 1319.3).attr('height', 10).attr('fill', '#0a9ae6');
E.append('rect').attr('x', 1768).attr('width', 56.7).attr('y', 1330).attr('height', 156.7).attr('fill', '#8fa3a8');
E.append('rect').attr('x', 1768).attr('width', 56.7).attr('y', 1487.3).attr('height', 10).attr('fill', '#ff3a30');
E.append('line').attr('x1', 1750).attr('x2', 1768).attr('y1', 1397).attr('y2', 1397).attr('stroke', '#333').attr('stroke-width', 3);
E.append('text').attr('x', 1732).attr('y', 1416.7).attr('text-anchor', 'end').attr('font-size', 48).attr('fill', '#333').text('FLT3');

E.append('text').attr('x', 2502).attr('y', 1566.7).attr('text-anchor', 'middle').attr('font-size', 26.5).attr('font-weight', 700)
  .attr('fill', '#333').style('white-space', 'pre').text('Relative  expression Log base 2');

const lg = d3.scaleLinear().domain([-6, 6]).range([1974, 3048]);
const lgBox = d3.scaleBand().domain(heatPalette).range(lg.range());
E.append('g').selectAll('rect').data(heatPalette).join('rect')
  .attr('x', d => lgBox(d)).attr('width', lgBox.bandwidth()).attr('y', 1602).attr('height', 60)
  .attr('fill', d => d).attr('stroke', '#fff').attr('stroke-opacity', .25).attr('stroke-width', 1);
E.append('rect').attr('x', 1974).attr('width', 1074).attr('y', 1598).attr('height', 6.5).attr('fill', '#000');
E.append('rect').attr('x', 1974).attr('width', 1074).attr('y', 1660.7).attr('height', 4.5).attr('fill', '#000');
[1974, 3048].forEach(v => E.append('line').attr('x1', v).attr('x2', v).attr('y1', 1598).attr('y2', 1665).attr('stroke', '#000').attr('stroke-width', 2.5));
const lgAxis = E.append('g').attr('transform', 'translate(0,1665)')
  .call(d3.axisBottom(lg).tickValues(d3.range(-6, 6.01, 12 / 26)).tickSize(12).tickFormat(''));
lgAxis.select('.domain').remove();
lgAxis.selectAll('line').attr('stroke', '#000').attr('stroke-width', 2.5);
const lgLabels = [['-6', -6.1], ['0', 0.02], ['+6', 5.96]];
E.append('g').selectAll('text').data(lgLabels).join('text')
  .attr('x', d => lg(d[1])).attr('y', 1730).attr('text-anchor', 'middle').attr('font-size', 38).attr('font-weight', 700).attr('fill', '#222').text(d => d[0]);

// ---- F: FLT3 by RT-qPCR ----
const F = svg.append('g').attr('filter', 'url(#softer)');
const fX = d3.scaleLinear().domain([0, 100]).range([1816.5, 3276.5]);
const fY = d3.scaleLinear().domain([-10, 10]).range([1845.7, 2118]);
const fAxis = F.append('g').attr('transform', 'translate(0,2152.7)')
  .call(d3.axisBottom(fX).tickValues(fltTicks).tickSize(13).tickSizeOuter(0));
fAxis.select('.domain').attr('stroke', '#bbb').attr('stroke-width', 5);
fAxis.selectAll('line').attr('stroke', '#888').attr('stroke-width', 2);
fAxis.selectAll('text').attr('y', 24).attr('dy', 0).attr('dominant-baseline', 'hanging').attr('font-size', 24).attr('fill', '#666');
F.append('rect').attr('x', fX(fltBox[0])).attr('width', fX(fltBox[1]) - fX(fltBox[0]))
  .attr('y', fY(-4.8)).attr('height', fY(4.8) - fY(-4.8)).attr('fill', '#00e676').attr('stroke', '#0a7a38').attr('stroke-width', 3);
F.append('line').attr('x1', fX(fltWhisker)).attr('x2', fX(fltWhisker)).attr('y1', fY(-2.4)).attr('y2', fY(2.6)).attr('stroke', '#999').attr('stroke-width', 1.5);
F.append('g').selectAll('circle').data(fltValues).join('circle')
  .attr('cx', d => fX(d)).attr('cy', (d, i) => fY(fltRows[i])).attr('r', 7)
  .attr('fill', d => d < .7 ? '#0f6e35' : '#35ab6a').attr('fill-opacity', .85);
F.append('text').attr('transform', 'translate(1762,1987) rotate(-90)').attr('text-anchor', 'middle')
  .style('font-family', '"DejaVu Sans"').style('letter-spacing', '.5px').attr('font-weight', 700).attr('font-size', 23).attr('fill', '#222')
  .text('FLT3 expression by RT-qPCR');
</script>
</body>
</html>
